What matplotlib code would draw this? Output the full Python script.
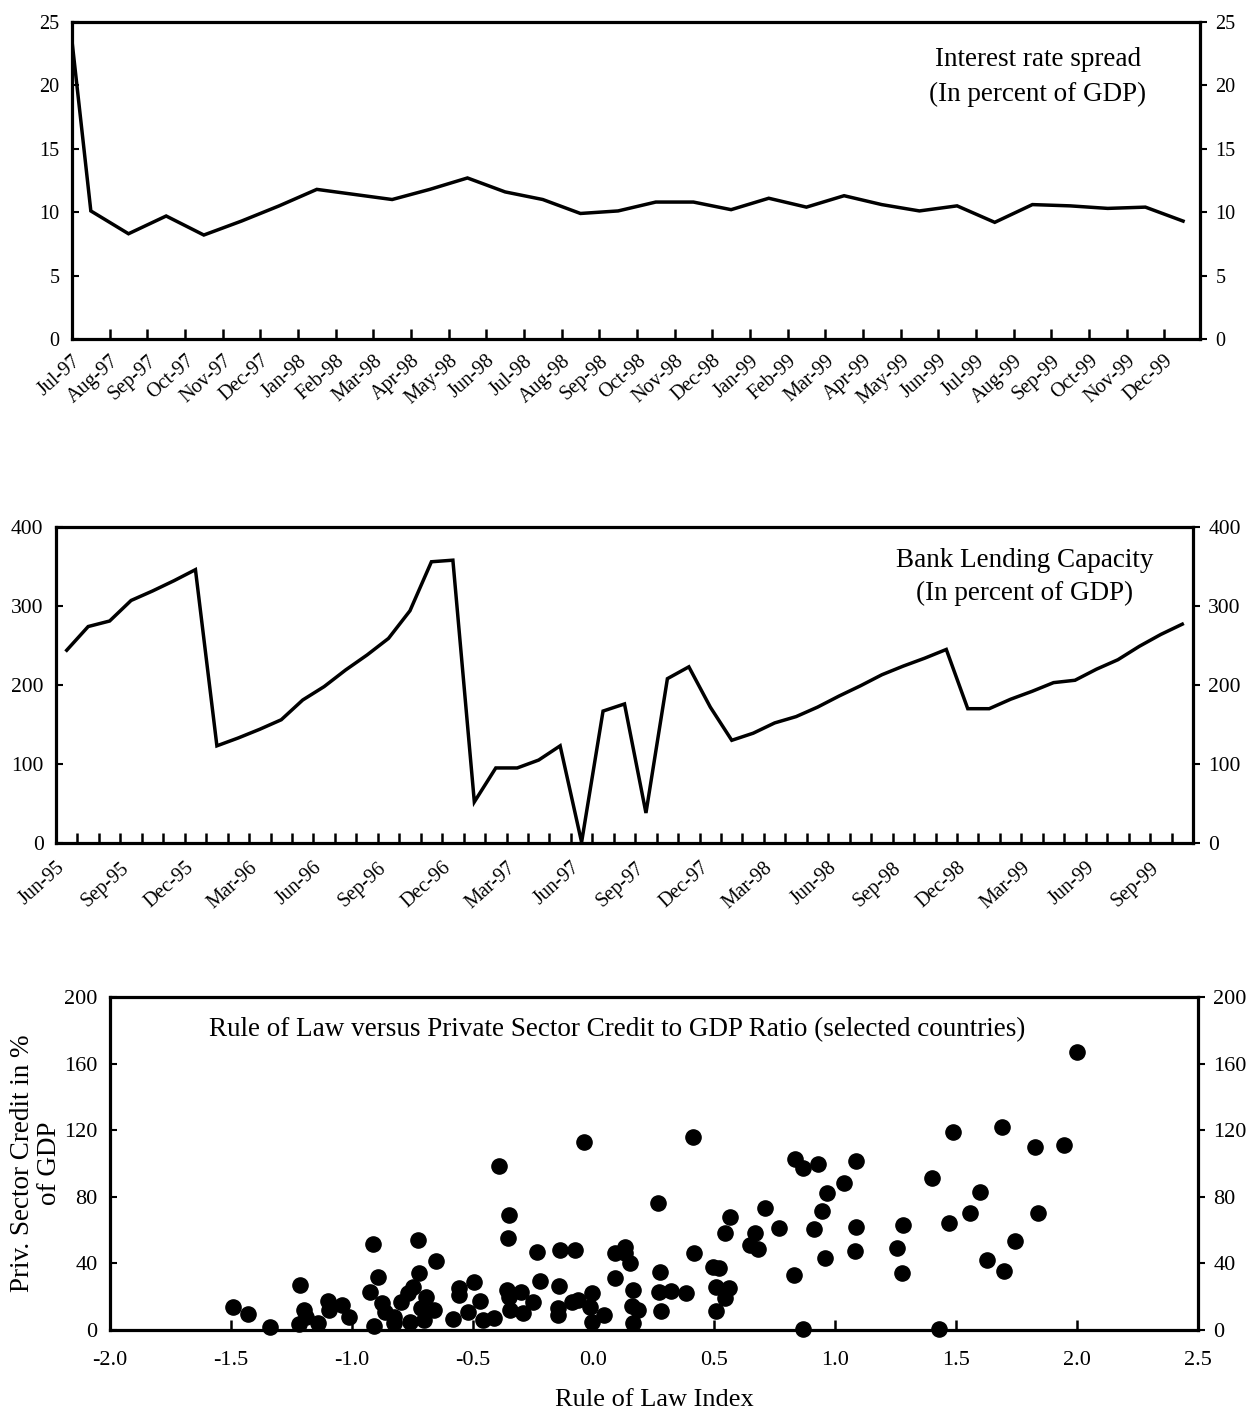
import numpy as np
import matplotlib
matplotlib.use("Agg")
import matplotlib.pyplot as plt

plt.rcParams["font.family"] = ["Liberation Serif", "DejaVu Serif"]
plt.rcParams["axes.linewidth"] = 2.3

# ---- Interest rate spread (monthly) ----
spread_labels = ["Jul-97", "Aug-97", "Sep-97", "Oct-97", "Nov-97", "Dec-97",
                 "Jan-98", "Feb-98", "Mar-98", "Apr-98", "May-98", "Jun-98",
                 "Jul-98", "Aug-98", "Sep-98", "Oct-98", "Nov-98", "Dec-98",
                 "Jan-99", "Feb-99", "Mar-99", "Apr-99", "May-99", "Jun-99",
                 "Jul-99", "Aug-99", "Sep-99", "Oct-99", "Nov-99", "Dec-99"]
spread_start = 23.5
spread_values = [10.1, 8.3, 9.7, 8.2, 9.3, 10.5, 11.8, 11.4, 11.0, 11.8,
                 12.7, 11.6, 11.0, 9.9, 10.1, 10.8, 10.8, 10.2, 11.1, 10.4,
                 11.3, 10.6, 10.1, 10.5, 9.2, 10.6, 10.5, 10.3, 10.4, 9.3]

# ---- Bank lending capacity (monthly, Jun-95 .. Nov-99) ----
lending_labels = ["Jun-95", "Sep-95", "Dec-95", "Mar-96", "Jun-96", "Sep-96",
                  "Dec-96", "Mar-97", "Jun-97", "Sep-97", "Dec-97", "Mar-98",
                  "Jun-98", "Sep-98", "Dec-98", "Mar-99", "Jun-99", "Sep-99"]
lending_values = [244, 274, 281, 307, 319, 332, 346, 123, 133, 144,
                  156, 181, 198, 219, 238, 259, 294, 356, 358, 52,
                  95, 95, 105, 123, 1, 167, 176, 38, 208, 223,
                  172, 130, 139, 152, 160, 172, 186, 199, 213, 224,
                  234, 245, 170, 170, 182, 192, 203, 206, 220, 232,
                  249, 264, 277]

# ---- Rule of law vs private sector credit ----
rule_of_law = [-1.49, -1.43, -1.34, -1.215, -1.198, -1.22, -1.19, -1.138, -1.10, -1.094,
               -1.039, -1.011, -0.914, -0.893, -0.924, -0.907, -0.873, -0.863, -0.825, -0.825,
               -0.797, -0.769, -0.748, -0.721, -0.725, -0.758, -0.714, -0.651, -0.693, -0.658,
               -0.70, -0.582, -0.555, -0.555, -0.493, -0.52, -0.468, -0.458, -0.41, -0.391,
               -0.351, -0.354, -0.357, -0.35, -0.347, -0.30, -0.292, -0.25, -0.232, -0.22,
               -0.14, -0.078, -0.142, -0.147, -0.145, -0.091, -0.064, -0.04, -0.008, -0.015,
               -0.008, 0.045, 0.088, 0.09, 0.13, 0.13, 0.151, 0.164, 0.158, 0.185,
               0.165, 0.266, 0.275, 0.271, 0.28, 0.32, 0.383, 0.411, 0.416, 0.496,
               0.52, 0.508, 0.559, 0.545, 0.506, 0.545, 0.566, 0.649, 0.667, 0.68,
               0.711, 0.769, 0.835, 0.866, 0.829, 0.866, 0.929, 1.084, 1.036, 0.967,
               0.943, 0.911, 1.087, 1.082, 0.956, 1.281, 1.257, 1.274, 1.40, 1.485,
               1.472, 1.557, 1.599, 1.628, 1.697, 1.69, 1.744, 1.827, 1.84, 1.946,
               2.0, 1.427]
credit_gdp = [14, 9.5, 2, 27, 12, 3.6, 8, 4.4, 17.6, 12,
              15, 7.6, 51.7, 31.6, 23, 2.4, 16, 11, 8, 4,
              17, 22, 26, 34.4, 54, 5, 13, 41.4, 20, 12,
              6, 6.4, 25, 21, 29, 11, 17.6, 6, 7, 98.7,
              69, 55, 24, 20, 12, 23, 10, 17, 46.7, 29.4,
              48, 48, 26.4, 13, 9, 17, 18, 113, 22.4, 14,
              5, 9, 46, 31.4, 50, 46, 40.4, 24, 14.4, 12,
              4.4, 76.5, 35, 23, 11.4, 23.6, 22, 115.7, 46.5, 37.6,
              37, 26, 25, 19, 11.6, 58.4, 68, 51, 58.4, 48.4,
              73.5, 61, 103, 97.5, 33, 0.4, 100, 101.7, 88.5, 82,
              71.5, 60.7, 61.7, 47.4, 43, 63, 49, 34.4, 91.5, 118.7,
              64.5, 70, 83, 42, 35.6, 121.7, 53.5, 109.7, 70.5, 111,
              166.8, 0.4]

W, H = 1246, 1416
fig = plt.figure(figsize=(W / 100, H / 100), dpi=100)


def frac(left, top, right, bottom):
    return [left / W, 1 - bottom / H, (right - left) / W, (bottom - top) / H]


LINE_W = 2.5
NOTE_FS = 19.5


def style_axis(ax, ylim, yticks, fs):
    ax.set_ylim(*ylim)
    ax.set_yticks(yticks)
    ax.tick_params(axis="y", direction="in", length=5, width=1.5,
                   labelsize=fs, pad=9)
    ax.tick_params(axis="x", direction="in", length=7, width=1.8)
    twin = ax.twinx()
    twin.set_ylim(*ylim)
    twin.set_yticks(yticks)
    twin.tick_params(axis="y", direction="out", length=5, width=1.5,
                     labelsize=fs, pad=6)
    for sp in twin.spines.values():
        sp.set_visible(False)
    return twin


# Panel 1: interest rate spread
ax1 = fig.add_axes(frac(72, 22, 1200, 339))
spread_x = np.r_[0.0, np.arange(len(spread_values)) + 0.5]
spread_y = np.r_[spread_start, spread_values]
ax1.plot(spread_x, spread_y, color="black", lw=LINE_W, solid_joinstyle="miter")
ax1.set_xlim(0, len(spread_labels) - 0.05)
ax1.set_xticks(np.arange(len(spread_labels)))
ax1.set_xticklabels(spread_labels, rotation=42, ha="right",
                    rotation_mode="anchor", fontsize=14.5)
style_axis(ax1, (0, 25), np.arange(0, 26, 5), 14.5)
ax1.tick_params(axis="x", pad=9)
ax1.text(0.856, 0.826, "Interest rate spread\n(In percent of GDP)",
         transform=ax1.transAxes, ha="center", va="center",
         fontsize=NOTE_FS, linespacing=1.5)

# Panel 2: bank lending capacity
ax2 = fig.add_axes(frac(56, 527, 1193, 843))
lend_x = np.arange(len(lending_values)) + 0.5
ax2.plot(lend_x, lending_values, color="black", lw=LINE_W,
         solid_joinstyle="miter")
ax2.set_xlim(0, len(lending_values))
month_ticks = np.arange(len(lending_values))
ax2.set_xticks(month_ticks)
tick_text = [lending_labels[i // 3] if i % 3 == 0 and i // 3 < len(lending_labels)
             else "" for i in month_ticks]
ax2.set_xticklabels(tick_text, rotation=42, ha="right", rotation_mode="anchor",
                    fontsize=14.5)
style_axis(ax2, (0, 400), np.arange(0, 401, 100), 15.5)
ax2.tick_params(axis="x", pad=11)
ax2.text(0.852, 0.843, "Bank Lending Capacity\n(In percent of GDP)",
         transform=ax2.transAxes, ha="center", va="center",
         fontsize=NOTE_FS, linespacing=1.4)

# Panel 3: rule of law scatter
ax3 = fig.add_axes(frac(110, 997, 1198, 1330))
ax3.scatter(rule_of_law, credit_gdp, s=120, color="black", zorder=3,
            clip_on=False)
ax3.set_xlim(-2.0, 2.5)
ax3.set_xticks(np.arange(-2.0, 2.51, 0.5))
ax3.set_xticklabels([f"{v:.1f}" for v in np.arange(-2.0, 2.51, 0.5)],
                    fontsize=16)
style_axis(ax3, (0, 200), np.arange(0, 201, 40), 16)
ax3.tick_params(axis="x", pad=15)
ax3.set_xlabel("Rule of Law Index", fontsize=19, labelpad=14)
ax3.set_ylabel("Priv. Sector Credit in %\nof GDP", fontsize=NOTE_FS,
               linespacing=1.12)
ax3.yaxis.set_label_coords(-0.044, 0.5)
ax3.text(0.466, 0.901,
         "Rule of Law versus Private Sector Credit to GDP Ratio (selected countries)",
         transform=ax3.transAxes, ha="center", va="center", fontsize=NOTE_FS)

fig.savefig("out.png", dpi=100)
